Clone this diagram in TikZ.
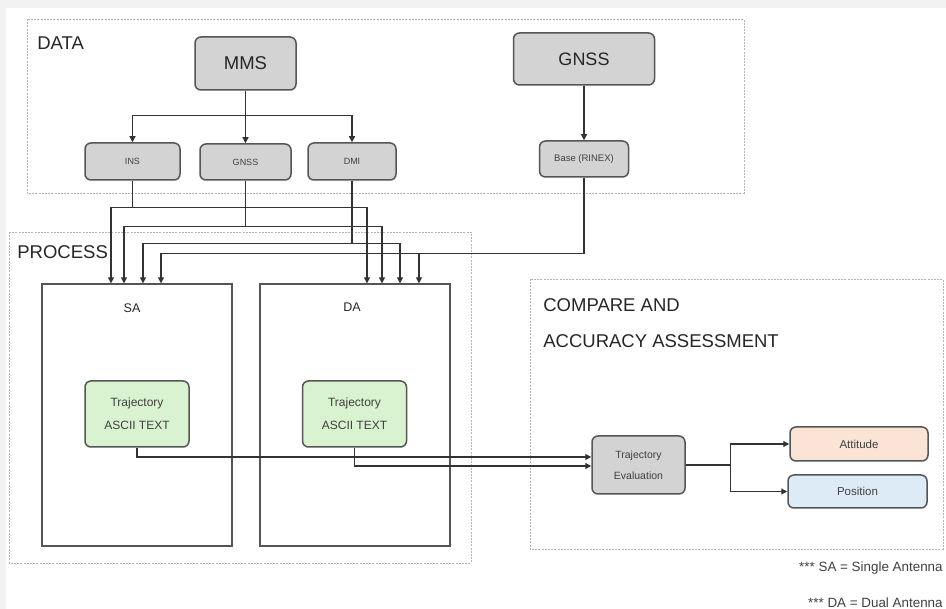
\documentclass[tikz,border=0pt]{standalone}
\usepackage{fontspec}
\setmainfont{Liberation Sans}
\usetikzlibrary{arrows.meta}
\definecolor{bggray}{HTML}{F2F2F2}
\definecolor{framegray}{HTML}{B4B4B4}
\definecolor{edgegray}{HTML}{555555}
\definecolor{boxgray}{HTML}{D3D3D3}
\definecolor{trajgreen}{HTML}{D9F2D0}
\definecolor{attpeach}{HTML}{FBE3D6}
\definecolor{posblue}{HTML}{DDEBF7}
\definecolor{linegray}{HTML}{333333}
\definecolor{txtgray}{HTML}{404040}

\tikzset{every picture/.style={line width=0.75pt}}
\tikzset{
	frame/.style={draw=framegray,line width=0.7pt,dash pattern=on 2pt off 1.2pt},
	head/.style={anchor=west,inner sep=0pt,text=black!85,font=\fontsize{18.5}{20}\selectfont},
	rbox/.style={draw=edgegray,line width=1.5pt,rounded corners=6pt,inner sep=0pt,text=txtgray,align=center},
	graybox/.style={rbox,fill=boxgray},
	pbox/.style={draw=edgegray,line width=1.3pt,inner sep=0pt},
	wire/.style={draw=linegray,line width=1.2pt}
}

\begin{document}
\begin{tikzpicture}[x=1pt,y=-1pt,>={Triangle[length=6pt,width=6pt]}]
	%Nen
	\fill[bggray] (0,0) rectangle (946,609);
	\fill[white] (6,8) rectangle (946,609);
	\useasboundingbox (0,0) rectangle (946,609);
	%Khung DATA
	\draw[frame] (27,19) rectangle (744,193);
	\node[head] (datalbl) at (37,43) {DATA};
	\node[graybox,minimum width=101,minimum height=53,font=\fontsize{18.5}{20}\selectfont,text=black!85] (mms) at (245.5,63.5) {MMS};
	\node[graybox,minimum width=141,minimum height=52,font=\fontsize{18}{20}\selectfont,text=black!85] (gnssbig) at (584,59) {GNSS};
	\node[graybox,minimum width=95,minimum height=37,font=\fontsize{9}{10}\selectfont] (ins) at (132.5,161.5) {INS};
	\node[graybox,minimum width=91,minimum height=36,font=\fontsize{9}{10}\selectfont] (gnss) at (245.5,162) {GNSS};
	\node[graybox,minimum width=88,minimum height=37,font=\fontsize{9}{10}\selectfont] (dmi) at (352,161.5) {DMI};
	\node[graybox,minimum width=89,minimum height=36,font=\fontsize{9.5}{10}\selectfont] (base) at (584,159) {Base (RINEX)};
	%Mui ten MMS
	\path (mms.south) ++(0,25) coordinate (mmsJ);
	\draw[wire] (mms.south) -- (mmsJ);
	\draw[wire,->] (mmsJ) -| (ins.north);
	\draw[wire,->] (mmsJ) -- (gnss.north);
	\draw[wire,->] (mmsJ) -| (dmi.north);
	\draw[wire,->] (gnssbig.south) -- (base.north);
	%Khung PROCESS
	\draw[frame] (9,232) rectangle (471,563);
	\node[head] (proclbl) at (17,252) {PROCESS};
	\node[pbox,minimum width=190,minimum height=262] (sa) at (137,415) {};
	\node[pbox,minimum width=190,minimum height=262] (da) at (355,415) {};
	\node[text=black!85,font=\fontsize{12.5}{14}\selectfont] (salbl) at (132,308) {SA};
	\node[text=black!85,font=\fontsize{12.5}{14}\selectfont] (dalbl) at (352,307) {DA};
	\node[rbox,fill=trajgreen,minimum width=104,minimum height=66,font=\fontsize{12}{23}\selectfont] (trajsa) at (137,414) {Trajectory\\ASCII TEXT};
	\node[rbox,fill=trajgreen,minimum width=104,minimum height=66,font=\fontsize{12}{23}\selectfont] (trajda) at (354.5,414) {Trajectory\\ASCII TEXT};
	%Mui ten vao SA, DA
	\path (ins.south) ++(0,27) coordinate (insJ);
	\draw[wire] (ins.south) -- (insJ);
	\draw[wire,->] (insJ) -| ([xshift=-26pt]sa.north);
	\draw[wire,->] (insJ) -| ([xshift=12pt]da.north);
	\path (gnss.south) ++(0,46) coordinate (gnssJ);
	\draw[wire] (gnss.south) -- (gnssJ);
	\draw[wire,->] (gnssJ) -| ([xshift=-13pt]sa.north);
	\draw[wire,->] (gnssJ) -| ([xshift=27pt]da.north);
	\path (dmi.south) ++(0,63) coordinate (dmiJ);
	\draw[wire] (dmi.south) -- (dmiJ);
	\draw[wire,->] (dmiJ) -| ([xshift=6pt]sa.north);
	\draw[wire,->] (dmiJ) -| ([xshift=45pt]da.north);
	\path (base.south) ++(0,76) coordinate (baseJ);
	\draw[wire] (base.south) -- (baseJ);
	\draw[wire,->] (baseJ) -| ([xshift=24pt]sa.north);
	\draw[wire,->] (baseJ) -| ([xshift=64pt]da.north);
	%Khung COMPARE
	\draw[frame] (530,279) rectangle (943,549);
	\node[head] (cmplbl1) at (543,305) {COMPARE AND};
	\node[head] (cmplbl2) at (543,341) {ACCURACY ASSESSMENT};
	\node[graybox,minimum width=93,minimum height=58,font=\fontsize{10.5}{21}\selectfont] (eval) at (638.5,465) {Trajectory\\Evaluation};
	\node[rbox,fill=attpeach,minimum width=138,minimum height=34,font=\fontsize{11.5}{12}\selectfont] (att) at (859,444) {Attitude};
	\node[rbox,fill=posblue,minimum width=139,minimum height=33,font=\fontsize{11.5}{12}\selectfont] (pos) at (857.5,491.5) {Position};
	%Mui ten Trajectory
	\draw[wire,->] (trajsa.south) |- ([yshift=8pt]eval.west);
	\draw[wire,->] (trajda.south) |- ([yshift=-1pt]eval.west);
	\path (eval.east) ++(45,0) coordinate (evalJ);
	\draw[wire] (eval.east) -- (evalJ);
	\draw[wire,->] (evalJ) |- (att.west);
	\draw[wire,->] (evalJ) |- (pos.west);
	%Ghi chu
	\node[anchor=east,inner sep=0pt,text=txtgray,font=\fontsize{13.4}{14}\selectfont] (notesa) at (943,568) {*** SA = Single Antenna};
	\node[anchor=east,inner sep=0pt,text=txtgray,font=\fontsize{13.4}{14}\selectfont] (noteda) at (943,603) {*** DA = Dual Antenna};
\end{tikzpicture}
\end{document}
